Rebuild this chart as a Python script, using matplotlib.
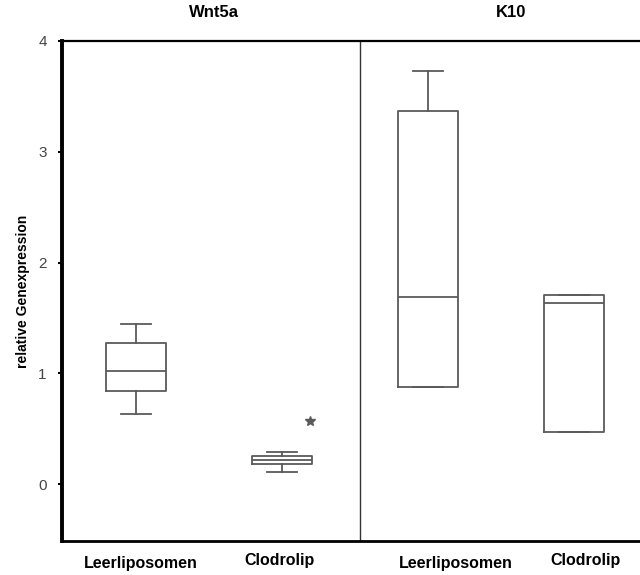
import matplotlib.pyplot as plt

# box statistics (relative gene expression)
groups = ['Wnt5a', 'K10']
labels = ['Leerliposomen', 'Clodrolip', 'Leerliposomen', 'Clodrolip']
whislo = [0.63, 0.105, 0.876, 0.467]
q1 = [0.837, 0.18, 0.876, 0.467]
med = [1.023, 0.217, 1.69, 1.638]
q3 = [1.276, 0.256, 3.37, 1.707]
whishi = [1.445, 0.29, 3.73, 1.707]
outliers = [[], [0.57], [], []]

positions = [1, 2, 3, 4]
label_x = [1.03, 1.98, 3.19, 4.08]
label_y = [-0.045, -0.038, -0.045, -0.038]
title_x = [1.53, 3.57]
yticks = [0, 1, 2, 3, 4]

plt.rcParams['font.family'] = ['Liberation Sans', 'DejaVu Sans']

fig = plt.figure(figsize=(6.4, 5.75), dpi=100)
ax = fig.add_axes([0.097, 0.059, 0.903, 0.8697])

stats = []
for i in range(4):
    stats.append(dict(whislo=whislo[i], q1=q1[i], med=med[i], q3=q3[i],
                      whishi=whishi[i], fliers=[]))

col = '#5a5a5a'
ax.bxp(stats, positions=positions, widths=0.41, showfliers=False,
       boxprops=dict(color=col, lw=1.3),
       medianprops=dict(color=col, lw=1.3),
       whiskerprops=dict(color=col, lw=1.3),
       capprops=dict(color=col, lw=1.3))

# outlier stars sit to the right of the box
for p, vals in zip(positions, outliers):
    if vals:
        ax.plot([p + 0.19] * len(vals), vals, ls='none', marker='*',
                color=col, markersize=7)

ax.axvline(2.53, color='#333333', lw=1.0)

ax.set_xlim(0.493, 4.45)
ax.set_ylim(-0.515, 4)
ax.set_xticks([])
ax.set_yticks(yticks)
ax.set_yticklabels([str(v) for v in yticks], fontsize=11, color='#444444')
ax.tick_params(axis='y', length=3, width=1.5, color='black', pad=8)

ax.spines['right'].set_visible(False)
ax.spines['left'].set_linewidth(2.8)
ax.spines['bottom'].set_linewidth(2.0)
ax.spines['top'].set_linewidth(1.6)

for x, y, t in zip(label_x, label_y, labels):
    ax.text(x, y, t, transform=ax.get_xaxis_transform(), ha='center',
            va='center', fontsize=11.5, fontweight='bold')

for x, t in zip(title_x, groups):
    ax.text(x, 1.056, t, transform=ax.get_xaxis_transform(), ha='center',
            va='center', fontsize=12, fontweight='bold')

ax.set_ylabel('relative Genexpression', fontsize=10, fontweight='bold',
              labelpad=6)

fig.savefig('out.png', dpi=100)
